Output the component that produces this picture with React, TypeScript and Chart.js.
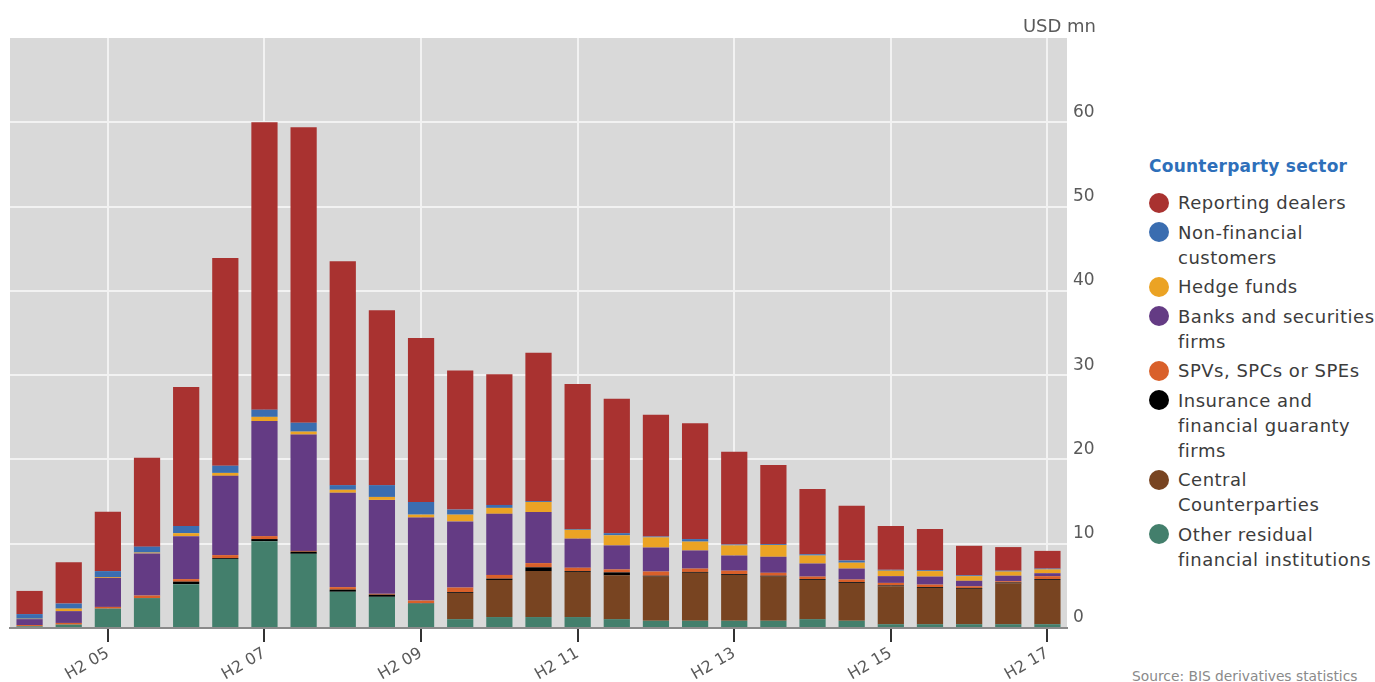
import React, { useEffect, useRef } from "react";
import { Chart, registerables } from "chart.js";

Chart.register(...registerables);

const periods = [
  "H2 04", "H1 05", "H2 05", "H1 06", "H2 06", "H1 07", "H2 07", "H1 08", "H2 08",
  "H1 09", "H2 09", "H1 10", "H2 10", "H1 11", "H2 11", "H1 12", "H2 12", "H1 13",
  "H2 13", "H1 14", "H2 14", "H1 15", "H2 15", "H1 16", "H2 16", "H1 17", "H2 17",
];

const shownTicks = ["H2 05", "H2 07", "H2 09", "H2 11", "H2 13", "H2 15", "H2 17"];

const yTicks = [0, 10, 20, 30, 40, 50, 60];

const otherResidual = [0.2, 0.4, 2.3, 3.55, 5.2, 8.2, 10.3, 8.8, 4.3, 3.7, 2.9, 1.05, 1.3, 1.3, 1.3, 1.05, 0.85, 0.85, 0.85, 0.85, 1.05, 0.85, 0.45, 0.45, 0.45, 0.45, 0.45];
const centralCounterparties = [0, 0, 0, 0, 0, 0, 0, 0, 0, 0, 0, 3.1, 4.4, 5.45, 5.35, 5.2, 5.25, 5.7, 5.45, 5.25, 4.65, 4.5, 4.5, 4.3, 4.2, 4.85, 5.25];
const insurance = [0, 0, 0, 0, 0.3, 0.1, 0.25, 0.25, 0.25, 0.25, 0.05, 0.1, 0.15, 0.45, 0.1, 0.35, 0.1, 0.1, 0.1, 0.1, 0.1, 0.1, 0.1, 0.1, 0.1, 0.1, 0.1];
const spvs = [0.15, 0.2, 0.2, 0.3, 0.3, 0.35, 0.35, 0.1, 0.3, 0.1, 0.3, 0.55, 0.45, 0.5, 0.4, 0.35, 0.5, 0.4, 0.4, 0.35, 0.3, 0.3, 0.3, 0.3, 0.2, 0.15, 0.35];
const banks = [0.7, 1.4, 3.45, 5.0, 5.1, 9.4, 13.65, 13.8, 11.2, 11.15, 9.85, 7.85, 7.25, 6.05, 3.45, 2.85, 2.85, 2.15, 1.8, 1.9, 1.55, 1.3, 0.8, 0.95, 0.65, 0.65, 0.35];
const hedgeFunds = [0.05, 0.3, 0.1, 0.1, 0.35, 0.35, 0.5, 0.35, 0.35, 0.35, 0.35, 0.8, 0.7, 1.2, 1.05, 1.2, 1.2, 1.05, 1.2, 1.4, 0.95, 0.7, 0.65, 0.65, 0.55, 0.5, 0.45];
const nonFinancial = [0.55, 0.6, 0.7, 0.7, 0.85, 0.85, 0.85, 1.05, 0.55, 1.4, 1.5, 0.6, 0.35, 0.1, 0.1, 0.25, 0.1, 0.3, 0.1, 0.1, 0.15, 0.25, 0.1, 0.1, 0.1, 0.1, 0.1];
const reportingDealers = [2.75, 4.9, 7.05, 10.55, 16.5, 24.65, 34.1, 35.05, 26.55, 20.75, 19.45, 16.5, 15.5, 17.6, 17.2, 15.95, 14.45, 13.75, 11.0, 9.4, 7.75, 6.5, 5.2, 4.9, 3.5, 2.8, 2.1];

const legendItems: { lines: string[]; color: string }[] = [
  { lines: ["Reporting dealers"], color: "#a93230" },
  { lines: ["Non-financial", "customers"], color: "#3a6db0" },
  { lines: ["Hedge funds"], color: "#eba324" },
  { lines: ["Banks and securities", "firms"], color: "#643b84" },
  { lines: ["SPVs, SPCs or SPEs"], color: "#d9602a" },
  { lines: ["Insurance and", "financial guaranty", "firms"], color: "#000000" },
  { lines: ["Central", "Counterparties"], color: "#784421" },
  { lines: ["Other residual", "financial institutions"], color: "#437f6c" },
];

const FONT = "'DejaVu Sans', sans-serif";

const plotBg = {
  id: "plotBg",
  beforeDraw(chart: any) {
    const { ctx, chartArea } = chart;
    ctx.save();
    ctx.fillStyle = "#d9d9d9";
    ctx.fillRect(chartArea.left, chartArea.top, chartArea.right - chartArea.left, chartArea.bottom - chartArea.top);
    ctx.restore();
  },
};

export default function App() {
  const canvasRef = useRef<HTMLCanvasElement | null>(null);

  useEffect(() => {
    if (!canvasRef.current) return;
    const series = [
      { label: "Other residual financial institutions", data: otherResidual, color: "#437f6c" },
      { label: "Central Counterparties", data: centralCounterparties, color: "#784421" },
      { label: "Insurance and financial guaranty firms", data: insurance, color: "#000000" },
      { label: "SPVs, SPCs or SPEs", data: spvs, color: "#d9602a" },
      { label: "Banks and securities firms", data: banks, color: "#643b84" },
      { label: "Hedge funds", data: hedgeFunds, color: "#eba324" },
      { label: "Non-financial customers", data: nonFinancial, color: "#3a6db0" },
      { label: "Reporting dealers", data: reportingDealers, color: "#a93230" },
    ];
    const chart = new Chart(canvasRef.current, {
      type: "bar",
      data: {
        labels: periods,
        datasets: series.map((s) => ({
          label: s.label,
          data: s.data,
          backgroundColor: s.color,
          borderWidth: 0,
          categoryPercentage: 1,
          barPercentage: 0.67,
        })),
      },
      options: {
        animation: false,
        responsive: false,
        maintainAspectRatio: false,
        layout: { padding: { left: 10, top: 38, right: 0, bottom: 0 } },
        plugins: {
          legend: { display: false },
          tooltip: { enabled: false },
        },
        scales: {
          x: {
            stacked: true,
            afterFit: (scale: any) => {
              scale.height = 54;
            },
            grid: {
              offset: false,
              drawOnChartArea: true,
              color: (ctx: any) =>
                ctx.tick && shownTicks.includes(periods[ctx.index]) ? "#f2f2f2" : "rgba(0,0,0,0)",
              tickColor: (ctx: any) =>
                ctx.tick && shownTicks.includes(periods[ctx.index]) ? "#333333" : "rgba(0,0,0,0)",
              lineWidth: 2,
              tickWidth: 2,
              tickLength: 14,
            },
            border: { display: true, color: "#8a8a8a", width: 2 },
            ticks: {
              autoSkip: false,
              maxRotation: 30,
              minRotation: 30,
              padding: 2,
              color: "#5a5a5a",
              font: { family: FONT, size: 16 },
              callback: (_v: any, i: number) => (shownTicks.includes(periods[i]) ? periods[i] : ""),
            },
          },
          y: {
            stacked: true,
            position: "right",
            min: 0,
            max: 70,
            afterFit: (scale: any) => {
              scale.width = 53;
            },
            grid: {
              drawTicks: false,
              tickLength: 0,
              lineWidth: 2,
              color: (ctx: any) =>
                ctx.tick && yTicks.includes(ctx.tick.value) && ctx.tick.value !== 0 ? "#f2f2f2" : "rgba(0,0,0,0)",
            },
            border: { display: false },
            ticks: {
              stepSize: 10,
              padding: 6,
              labelOffset: -10,
              color: "#5a5a5a",
              font: { family: FONT, size: 17 },
              callback: (v: any) => (yTicks.includes(v) ? String(v) : ""),
            },
          },
        },
      },
      plugins: [plotBg],
    });
    return () => chart.destroy();
  }, []);

  return (
    <div style={{ position: "absolute", left: 0, top: 0, width: 1375, height: 682, background: "#fff", fontFamily: FONT, overflow: "hidden" }}>
      <canvas ref={canvasRef} width={1120} height={682} style={{ position: "absolute", left: 0, top: 0, width: 1120, height: 682 }} />
      <div style={{ position: "absolute", right: 279, top: 14, fontSize: 18, lineHeight: "24px", color: "#5a5a5a", whiteSpace: "nowrap" }}>USD mn</div>
      <div style={{ position: "absolute", left: 1149, top: 154 }}>
        <div style={{ fontWeight: "bold", fontSize: 17, lineHeight: "24px", color: "#2e6fba", whiteSpace: "nowrap", marginBottom: 12, letterSpacing: "0.25px" }}>
          Counterparty sector
        </div>
        {legendItems.map((it) => (
          <div key={it.lines.join(" ")} style={{ position: "relative", paddingLeft: 29, marginBottom: 4.5 }}>
            <span style={{ position: "absolute", left: 0, top: 2.5, width: 20, height: 20, borderRadius: 10, background: it.color }} />
            {it.lines.map((ln) => (
              <div key={ln} style={{ fontSize: 18, lineHeight: "25px", color: "#3c3c3c", whiteSpace: "nowrap", letterSpacing: "0.5px" }}>{ln}</div>
            ))}
          </div>
        ))}
      </div>
      <div style={{ position: "absolute", left: 1132, top: 667, fontSize: 13.8, lineHeight: "18px", color: "#8a8a8a", whiteSpace: "nowrap" }}>
        Source: BIS derivatives statistics
      </div>
    </div>
  );
}
